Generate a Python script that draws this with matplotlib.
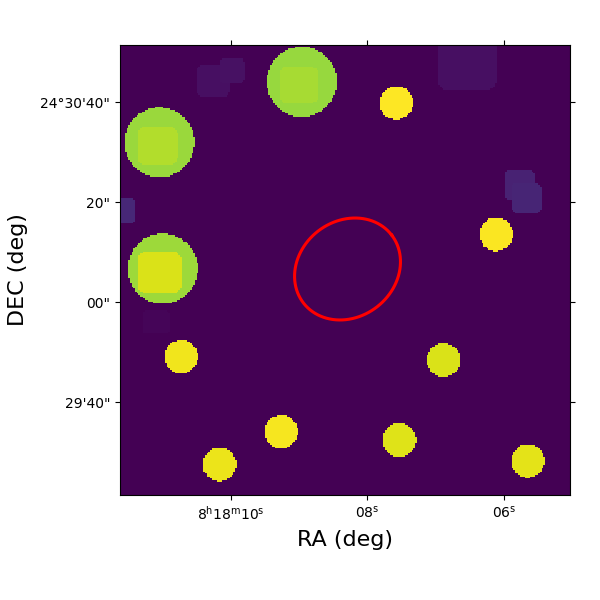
import numpy as np
import matplotlib
matplotlib.use('Agg')
import matplotlib.pyplot as plt

# RA in seconds past 8h18m, DEC in arcsec past 24d29m
ra_range = [11.628, 5.03]
dec_range = [21.4, 111.4]
npix = 270

# faint rounded patches: ra_left, ra_right, dec_top, dec_bottom, level
faint_ra_left = [10.51, 10.169, 11.70, 6.972, 5.99, 5.887, 11.298]
faint_ra_right = [10.022, 9.802, 11.415, 6.107, 5.55, 5.447, 10.902]
faint_dec_top = [107.4, 108.8, 80.8, 113.0, 86.4, 83.8, 58.4]
faint_dec_bot = [101.06, 103.8, 75.74, 102.4, 80.4, 77.8, 53.6]
faint_level = [0.04, 0.045, 0.11, 0.04, 0.095, 0.105, 0.015]

# big sources
big_ra = [8.962, 11.048, 11.0]
big_dec = [104.06, 91.94, 66.66]
big_level = [0.845, 0.85, 0.855]
big_radius = 7.0

# brighter core of the big sources
core_ra_left = [9.289, 11.371, 11.371]
core_ra_right = [8.717, 10.784, 10.726]
core_dec_top = [107.0, 95.0, 70.0]
core_dec_bot = [99.8, 87.4, 61.8]
core_level = [0.87, 0.885, 0.945]

# small sources
small_ra = [7.578, 6.111, 10.73, 9.264, 10.169, 6.884, 7.529, 5.648]
small_dec = [99.86, 73.54, 49.06, 34.06, 27.54, 48.4, 32.4, 28.2]
small_level = [1.0, 0.995, 0.98, 0.985, 0.97, 0.945, 0.95, 0.96]
small_radius = 3.35

# region ellipse, arcsec
ell_ra = 8.292
ell_dec = 66.6
ell_a = 11.14
ell_b = 9.6
ell_angle = 37.4

ra_ticks = [10, 8, 6]
ra_labels = [r'$\mathrm{8^{h}18^{m}10^{s}}$', r'$\mathrm{08^{s}}$', r'$\mathrm{06^{s}}$']
dec_ticks = [100, 80, 60, 40]
dec_labels = ['24°30\'40"', '20"', '00"', '29\'40"']

arcsec_per_sec = 15 * np.cos(np.radians(24.5))
pix_ra = (ra_range[1] - ra_range[0]) / npix
pix_dec = (dec_range[1] - dec_range[0]) / npix
ra_c = ra_range[0] + (np.arange(npix) + 0.5) * pix_ra
dec_c = dec_range[0] + (np.arange(npix) + 0.5) * pix_dec
rr, dd = np.meshgrid(ra_c, dec_c)


def add_box(img, ra_l, ra_r, dec_t, dec_b, level):
    # rounded box, corners about a quarter of the short side
    cx = (ra_l + ra_r) / 2
    cy = (dec_t + dec_b) / 2
    hx = abs(ra_l - ra_r) / 2 * arcsec_per_sec
    hy = (dec_t - dec_b) / 2
    rad = min(hx, hy) * 0.4
    qx = np.abs(rr - cx) * arcsec_per_sec - (hx - rad)
    qy = np.abs(dd - cy) - (hy - rad)
    dist = np.hypot(np.maximum(qx, 0), np.maximum(qy, 0)) + np.minimum(np.maximum(qx, qy), 0)
    img[dist <= rad] = level


def add_circle(img, ra, dec, radius, level):
    dist = np.hypot((rr - ra) * arcsec_per_sec, dd - dec)
    img[dist <= radius] = level


img = np.zeros((npix, npix))
for i in range(len(faint_level)):
    add_box(img, faint_ra_left[i], faint_ra_right[i], faint_dec_top[i], faint_dec_bot[i], faint_level[i])
for i in range(len(big_level)):
    add_circle(img, big_ra[i], big_dec[i], big_radius, big_level[i])
    add_box(img, core_ra_left[i], core_ra_right[i], core_dec_top[i], core_dec_bot[i], core_level[i])
for i in range(len(small_level)):
    add_circle(img, small_ra[i], small_dec[i], small_radius, small_level[i])

fig = plt.figure(figsize=(6, 6), dpi=100)
ax = fig.add_axes([0.2, 0.175, 0.75, 0.75])
ax.imshow(img, origin='lower', cmap='viridis', vmin=0, vmax=1, aspect='auto',
          interpolation='nearest', extent=[ra_range[0], ra_range[1], dec_range[0], dec_range[1]])

t = np.linspace(0, 2 * np.pi, 300)
ang = np.radians(ell_angle)
ex = ell_a * np.cos(t) * np.cos(ang) - ell_b * np.sin(t) * np.sin(ang)
ey = ell_a * np.cos(t) * np.sin(ang) + ell_b * np.sin(t) * np.cos(ang)
ax.plot(ell_ra - ex / arcsec_per_sec, ell_dec + ey, color='red', lw=2.2)

ax.set_xlim(ra_range)
ax.set_ylim(dec_range)
ax.set_xticks(ra_ticks)
ax.set_xticklabels(ra_labels)
ax.set_yticks(dec_ticks)
ax.set_yticklabels(dec_labels)
ax.tick_params(top=True, right=True)
ax.set_xlabel('RA (deg)', fontsize=16, labelpad=5)
ax.set_ylabel('DEC (deg)', fontsize=16, labelpad=9)

fig.savefig('out.png', dpi=100)
